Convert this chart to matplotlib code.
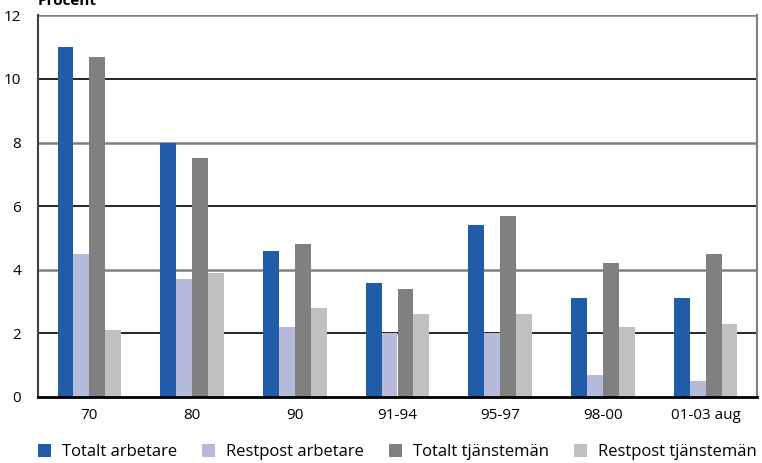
import matplotlib.pyplot as plt
import numpy as np

plt.rcParams['font.family'] = ['Open Sans', 'DejaVu Sans']

# Data
periods = ['70', '80', '90', '91-94', '95-97', '98-00', '01-03 aug']
totalt_arbetare = [11.0, 8.0, 4.6, 3.6, 5.4, 3.1, 3.1]
restpost_arbetare = [4.5, 3.7, 2.2, 2.0, 2.0, 0.7, 0.5]
totalt_tjansteman = [10.7, 7.5, 4.8, 3.4, 5.7, 4.2, 4.5]
restpost_tjansteman = [2.1, 3.9, 2.8, 2.6, 2.6, 2.2, 2.3]

series = [
    ('Totalt arbetare', totalt_arbetare, '#215ca8'),
    ('Restpost arbetare', restpost_arbetare, '#b5b9da'),
    ('Totalt tjänstemän', totalt_tjansteman, '#808080'),
    ('Restpost tjänstemän', restpost_tjansteman, '#c0c0c0'),
]

fig = plt.figure(figsize=(7.62, 4.63), dpi=100)
ax = fig.add_axes([38 / 762, 66 / 463, 719 / 762, 381.6 / 463])

x = np.arange(len(periods))
w = 0.155
for i, (name, vals, col) in enumerate(series):
    ax.bar(x + (i - 1.5) * w, vals, width=w, color=col, label=name, zorder=3)

# horizontal grid, alternating black and grey
for y in [2, 4, 6, 8, 10, 12]:
    col = 'black' if y in (2, 6, 10) else '#808080'
    lw = 1.2 if col == 'black' else 1.8
    ax.axhline(y, color=col, lw=lw, zorder=1)

ax.set_xlim(-0.5, len(periods) - 0.5)
ax.set_ylim(0, 12)
ax.set_yticks([0, 2, 4, 6, 8, 10, 12])
ax.set_xticks(x)
ax.set_xticklabels(periods)
ax.tick_params(axis='both', length=0, labelsize=11, colors='black')
ax.tick_params(axis='y', pad=12)
ax.tick_params(axis='x', pad=8)

ax.spines['top'].set_visible(False)
ax.spines['left'].set_color('#404040')
ax.spines['left'].set_linewidth(1.5)
ax.spines['right'].set_color('#808080')
ax.spines['right'].set_linewidth(1.5)
ax.spines['bottom'].set_color('black')
ax.spines['bottom'].set_linewidth(2)
ax.spines['bottom'].set_zorder(4)

fig.text(38 / 762, 1 - 5 / 463, 'Procent', fontsize=11, fontweight='bold',
         va='baseline', ha='left')

fig.legend(loc='center left', bbox_to_anchor=(38 / 762, 1 - 452 / 463), ncol=4,
           frameon=False, fontsize=12, handlelength=0.78, handleheight=0.78,
           handletextpad=0.66, columnspacing=1.5, borderaxespad=0, borderpad=0)

fig.savefig('out.png', dpi=100)
